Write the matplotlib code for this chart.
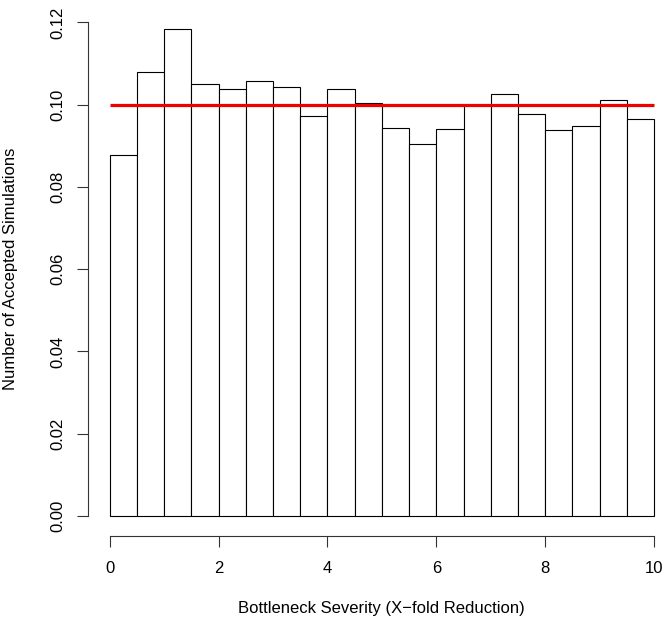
import numpy as np
import matplotlib
matplotlib.use("Agg")
import matplotlib.pyplot as plt

# histogram bins (bottleneck severity, width 0.5) and densities
bin_left = np.arange(0, 10, 0.5)
density = [0.0878, 0.1079, 0.1184, 0.1049, 0.1039, 0.1058, 0.1044, 0.0973, 0.1037, 0.1003,
           0.0943, 0.0904, 0.0941, 0.1000, 0.1026, 0.0978, 0.0938, 0.0948, 0.1010, 0.0966]
expected = 0.1  # uniform prior line

x_ticks = [0, 2, 4, 6, 8, 10]
y_ticks = [0.00, 0.02, 0.04, 0.06, 0.08, 0.10, 0.12]

plt.rcParams['font.family'] = ['Liberation Sans', 'DejaVu Sans']
plt.rcParams['font.size'] = 12

W, H = 668, 627
fig = plt.figure(figsize=(W / 100, H / 100), dpi=100)

# R-style plot region: 4% padding around data, right edge runs past the image
left_px, right_px, top_px, bottom_px = 87.9, 675.8, 2.6, 535.7
ax = fig.add_axes([left_px / W, 1 - bottom_px / H,
                   (right_px - left_px) / W, (bottom_px - top_px) / H])

ax.bar(bin_left, density, width=0.5, align='edge', facecolor='white',
       edgecolor='black', linewidth=0.8)
ax.plot([0, 10], [expected, expected], color='#ee0000', linewidth=2.3, solid_capstyle='butt')

ax.set_xlim(-0.4, 10.4)
ax.set_ylim(-0.0048, 0.1248)

for s in ['top', 'right']:
    ax.spines[s].set_visible(False)
ax.spines['left'].set_bounds(0, 0.12)
ax.spines['bottom'].set_bounds(0, 10)
for s in ['left', 'bottom']:
    ax.spines[s].set_linewidth(0.8)
    ax.spines[s].set_color('#333333')

ax.set_xticks(x_ticks)
ax.set_xticklabels([str(t) for t in x_ticks])
ax.set_yticks(y_ticks)
ax.set_yticklabels(['%.2f' % t for t in y_ticks], rotation=90, va='center')
ax.tick_params(axis='both', length=8, width=0.8, color='#333333', labelsize=12)
ax.tick_params(axis='x', pad=10)
ax.tick_params(axis='y', pad=8)

ax.set_xlabel('Bottleneck Severity (X\u2212fold Reduction)', fontsize=12)
ax.set_ylabel('Number of Accepted Simulations', fontsize=12)
ax.xaxis.set_label_coords(0.5, -(608 - bottom_px) / (bottom_px - top_px))
ax.xaxis.label.set_va('center')
ax.yaxis.set_label_coords((11 - left_px) / (right_px - left_px), 0.5)
ax.yaxis.label.set_va('center')

fig.savefig('out.png', dpi=100)
